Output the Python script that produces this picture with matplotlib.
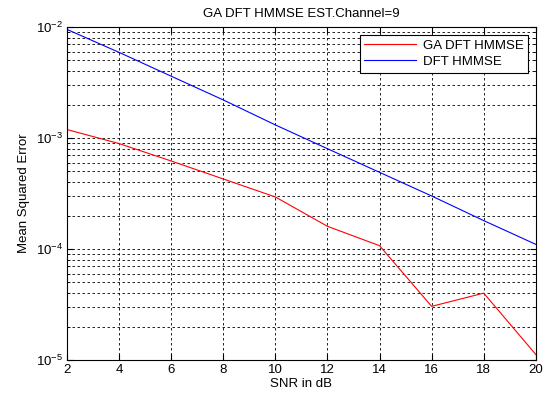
import matplotlib
matplotlib.use("Agg")
import matplotlib.pyplot as plt
from matplotlib.ticker import LogLocator

plt.rcParams['font.family'] = ['Liberation Sans', 'DejaVu Sans']

snr = [2, 4, 6, 8, 10, 12, 14, 16, 18, 20]
ga_dft_hmmse = [1.19e-3, 8.9e-4, 6.2e-4, 4.27e-4, 2.94e-4, 1.6e-4, 1.07e-4, 3.04e-5, 4.0e-5, 1.12e-5]
dft_hmmse = [9.5e-3, 5.9e-3, 3.6e-3, 2.2e-3, 1.31e-3, 8.0e-4, 4.9e-4, 3.0e-4, 1.8e-4, 1.1e-4]

fig = plt.figure(figsize=(5.49, 3.96), dpi=100)
ax = fig.add_axes([0.122, 0.091, 0.854, 0.841])

ax.semilogy(snr, ga_dft_hmmse, color='red', lw=0.8, label='GA DFT HMMSE')
ax.semilogy(snr, dft_hmmse, color='blue', lw=0.8, label='DFT HMMSE')

ax.set_xlim(2, 20)
ax.set_ylim(1e-5, 1e-2)
ax.set_xticks(range(2, 21, 2))
ax.yaxis.set_major_locator(LogLocator(base=10, numticks=10))
ax.yaxis.set_minor_locator(LogLocator(base=10, subs=range(2, 10), numticks=10))
ax.yaxis.set_minor_formatter(plt.NullFormatter())

ax.grid(True, which='major', color='black', ls=(0, (3, 3)), lw=0.6)
ax.grid(True, which='minor', axis='y', color='black', ls=(0, (3, 3)), lw=0.6)
ax.tick_params(which='both', direction='in', top=True, right=True, labelsize=9.5)
ax.tick_params(which='major', length=4, pad=3)
ax.tick_params(which='minor', length=2)
for s in ax.spines.values():
    s.set_linewidth(0.8)

ax.set_title('GA DFT HMMSE EST.Channel=9', fontsize=9.5, pad=7)
ax.set_xlabel('SNR in dB', fontsize=9.5, labelpad=1)
ax.set_ylabel('Mean Squared Error', fontsize=9.5, labelpad=4)

leg = ax.legend(loc='upper right', fontsize=9.5, fancybox=False, framealpha=1,
                edgecolor='black', borderaxespad=0.6, handlelength=3.9,
                borderpad=0.35, labelspacing=0.3, handletextpad=0.5)
leg.get_frame().set_linewidth(0.8)

fig.savefig('out.png', dpi=100)
